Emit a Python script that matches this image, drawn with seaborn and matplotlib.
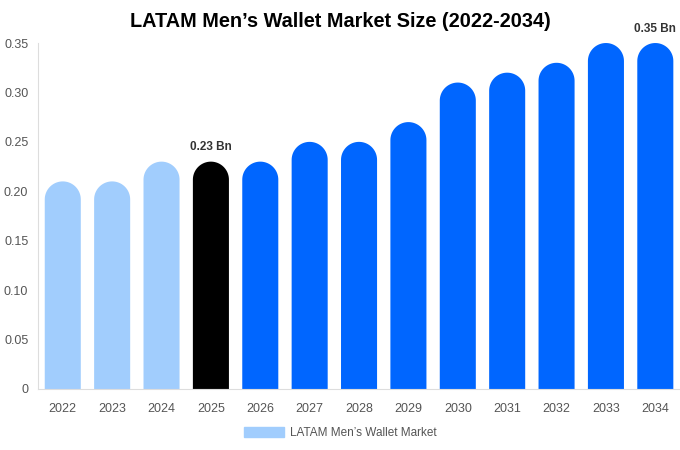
import numpy as np
import matplotlib.pyplot as plt
import matplotlib.patches as mpatches
import seaborn as sns
import pandas as pd

years = ["2022", "2023", "2024", "2025", "2026", "2027", "2028",
         "2029", "2030", "2031", "2032", "2033", "2034"]
market_size = [0.21, 0.21, 0.23, 0.23, 0.23, 0.25, 0.25,
               0.27, 0.31, 0.32, 0.33, 0.35, 0.35]
annotated = {"2025": "0.23 Bn", "2034": "0.35 Bn"}
y_ticks = [0, 0.05, 0.10, 0.15, 0.20, 0.25, 0.30, 0.35]
y_tick_labels = ["0", "0.05", "0.10", "0.15", "0.20", "0.25", "0.30", "0.35"]

light_blue = "#a1cdfd"
blue = "#0066ff"
colors = [light_blue] * 3 + ["#000000"] + [blue] * 9

sns.set_style("white")
plt.rcParams["font.family"] = ["Liberation Sans", "DejaVu Sans"]

df = pd.DataFrame({"year": years, "size": market_size})

fig = plt.figure(figsize=(6.8, 4.5), dpi=100)
ax = fig.add_axes([0.056, 0.1356, 0.944, 0.7688])
sns.barplot(data=df, x="year", y="size", hue="year", palette=colors,
            width=0.73, legend=False, saturation=1, ax=ax)
ax.set_xlim(-0.5, len(years) - 0.5)
ax.set_ylim(0, 0.35)

# swap the flat bars for bars with a semicircular top
fig.canvas.draw()
bbox = ax.get_window_extent()
px_x = bbox.width / (ax.get_xlim()[1] - ax.get_xlim()[0])
px_y = bbox.height / (ax.get_ylim()[1] - ax.get_ylim()[0])
theta = np.linspace(np.pi, 0, 40)
for patch, col in list(zip(ax.patches, colors)):
    x, w, h = patch.get_x(), patch.get_width(), patch.get_height()
    rx = w / 2
    ry = (rx * px_x) / px_y
    cx, cy = x + rx, h - ry
    arc = np.column_stack([cx + rx * np.cos(theta), cy + ry * np.sin(theta)])
    verts = np.vstack([[x, 0], arc, [x + w, 0]])
    patch.set_visible(False)
    ax.add_patch(mpatches.Polygon(verts, closed=True, facecolor=col,
                                  edgecolor="none"))

for i, yr in enumerate(years):
    if yr in annotated:
        ax.text(i, market_size[i] + 0.0085, annotated[yr], ha="center", va="bottom",
                fontsize=8.5, fontweight="bold", color="#333333")

ax.set_yticks(y_ticks)
ax.set_yticklabels(y_tick_labels)
ax.tick_params(axis="both", labelsize=9, colors="#555555", length=0)
ax.tick_params(axis="y", pad=7)
ax.tick_params(axis="x", pad=10)
ax.set_xlabel("")
ax.set_ylabel("")
for side in ["top", "right"]:
    ax.spines[side].set_visible(False)
for side in ["left", "bottom"]:
    ax.spines[side].set_color("#dddddd")
    ax.spines[side].set_linewidth(0.8)

fig.suptitle("LATAM Men\u2019s Wallet Market Size (2022-2034)", x=0.5, y=0.974,
             fontsize=14.3, fontweight="bold", color="#000000")

handle = mpatches.Patch(color=light_blue, label="LATAM Men\u2019s Wallet Market")
fig.legend(handles=[handle], loc="center", bbox_to_anchor=(0.5, 0.038), frameon=False,
           fontsize=8.5, handlelength=3.4, handleheight=1.0, handletextpad=0.5,
           labelcolor="#555555")

fig.savefig("out.png", dpi=100)
